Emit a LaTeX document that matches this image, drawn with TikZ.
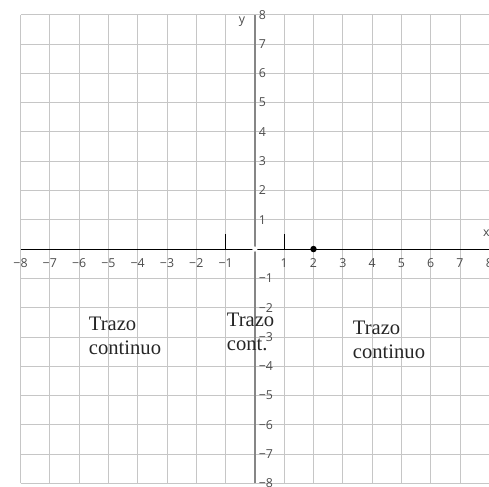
\documentclass[tikz,border=0pt]{standalone}
\usepackage{fontspec}
\setmainfont{Liberation Serif}
\setsansfont{Open Sans}
\begin{document}
\begin{tikzpicture}[
    font=\sffamily,
    grid line/.style={draw=gray!45, line width=0.8pt},
    axis num/.style={text=gray!60!black, font=\sffamily\fontsize{12}{14}\selectfont, inner sep=0pt},
    note text/.style={font=\rmfamily\fontsize{20}{23}\selectfont, text=black!85, align=left, inner sep=0pt, anchor=north west},
  ]
  \useasboundingbox (-8.7,-8.09) rectangle (7.99,8.5);

  % Cuadrícula de -8 a 8
  \foreach \k in {-8,...,8} {
    \draw[grid line] (\k,-8) -- (\k,8);
    \draw[grid line] (-8,\k) -- (8,\k);
  }

  % Ejes
  \draw[gray!95, line width=1.6pt] (0,-8) -- (0,8);
  \draw[black, line width=0.8pt] (-8,0) -- (8,0);
  \fill[white] (0,0) circle (0.09);

  % Marcas verticales en x = -1 y x = 1
  \draw[black, line width=0.8pt] (-1,0) -- (-1,0.5);
  \draw[black, line width=0.8pt] (1,0) -- (1,0.5);

  % Punto en (2,0)
  \node[circle, fill=black, inner sep=0pt, minimum size=0.22cm] (pt) at (2,0) {};

  % Números de los ejes
  \foreach \n in {1,...,8} {
    \node[axis num] (xp-\n) at (\n,-0.48) {\n};
    \node[axis num] (xn-\n) at (-\n,-0.48) {−\n};
    \node[axis num, anchor=west] (yp-\n) at (0.13,\n) {\n};
    \node[axis num, anchor=west] (yn-\n) at (0.13,-\n) {−\n};
  }
  \node[axis num] (lbl-y) at (-0.44,7.75) {y};
  \node[axis num] (lbl-x) at (7.9,0.55) {x};

  % Textos
  \node[note text] (left-note) at (-5.67,-2.32) {Trazo\\continuo};
  \node[note text] (mid-note) at (-0.96,-2.18) {Trazo\\cont.};
  \node[note text] (right-note) at (3.34,-2.46) {Trazo\\continuo};
\end{tikzpicture}
\end{document}
